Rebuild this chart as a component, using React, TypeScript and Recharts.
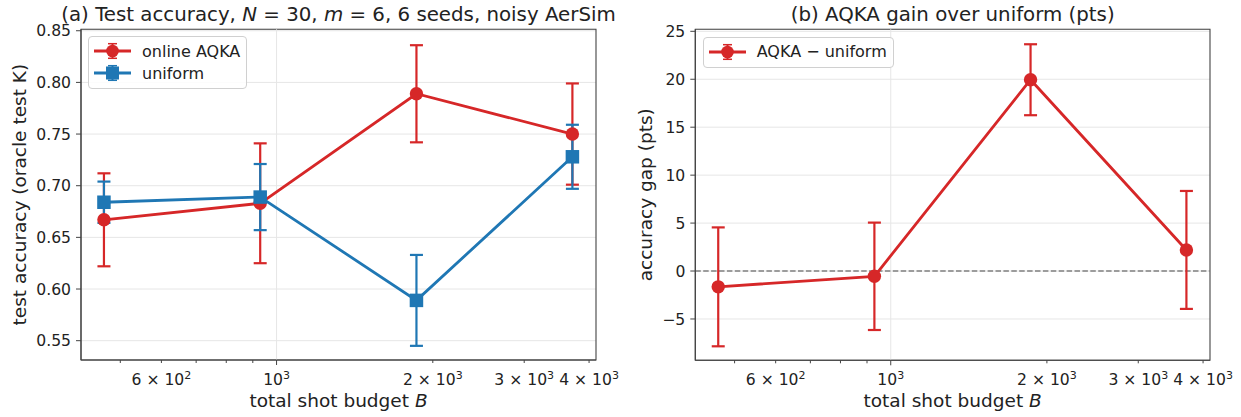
import React from "react";
import {
  LineChart,
  Line,
  XAxis,
  YAxis,
  CartesianGrid,
  ErrorBar,
  ReferenceLine,
  ReferenceArea,
  Legend,
  Customized,
} from "recharts";

// shot budgets (x, log scale) and the two panels' series
const budgets = [465, 930, 1860, 3715];
const aqkaAcc = [0.667, 0.683, 0.789, 0.75];
const aqkaErr = [0.045, 0.058, 0.047, 0.049];
const uniformAcc = [0.684, 0.689, 0.589, 0.728];
const uniformErr = [0.02, 0.032, 0.044, 0.031];
const gapPts = [-1.65, -0.55, 19.95, 2.2];
const gapErr = [6.2, 5.6, 3.7, 6.15];

const xTicks = [500, 600, 700, 800, 900, 1000, 2000, 3000, 4000];
const xTickLabels: Record<number, [string, string]> = {
  600: ["6 × 10", "2"],
  1000: ["10", "3"],
  2000: ["2 × 10", "3"],
  3000: ["3 × 10", "3"],
  4000: ["4 × 10", "3"],
};
const accTicks = [0.55, 0.6, 0.65, 0.7, 0.75, 0.8, 0.85];
const gapTicks = [-5, 0, 5, 10, 15, 20, 25];

const X_DOMAIN: [number, number] = [420, 4125];
const ACC_DOMAIN: [number, number] = [0.5313, 0.8514];
const GAP_DOMAIN: [number, number] = [-9.31, 25.21];

const RED = "#d62728";
const BLUE = "#1f77b4";
const SPINE = "#444";
const TEXT = "#222";
const GRID = "#e6e6e6";
const FONT = "'DejaVu Sans', sans-serif";

const accData = budgets.map((b, i) => ({
  b,
  aqka: aqkaAcc[i],
  aqkaErr: aqkaErr[i],
  uniform: uniformAcc[i],
  uniformErr: uniformErr[i],
}));
const gapData = budgets.map((b, i) => ({ b, gap: gapPts[i], gapErr: gapErr[i] }));

function XTick(props: any) {
  const { x, y, payload } = props;
  const v = payload.value;
  const lab = xTickLabels[v];
  const major = v === 1000;
  return (
    <g>
      <line x1={x} x2={x} y1={y} y2={y + (major ? 5 : 3)} stroke={SPINE} strokeWidth={1} />
      {lab && (
        <text x={x} y={y + 25} textAnchor="middle" fontSize={15.6} fill={TEXT} fontFamily={FONT}>
          {lab[0]}
          <tspan dy={-6.5} fontSize={11}>
            {lab[1]}
          </tspan>
        </text>
      )}
    </g>
  );
}

function LegendIcon({ color, shape }: { color: string; shape: "circle" | "square" }) {
  return (
    <svg width={37} height={20} style={{ marginRight: 11, flex: "none" }}>
      <line x1={0} x2={37} y1={10} y2={10} stroke={color} strokeWidth={2.8} />
      <line x1={18.5} x2={18.5} y1={2.7} y2={17.3} stroke={color} strokeWidth={2} />
      <line x1={14} x2={23} y1={2.7} y2={2.7} stroke={color} strokeWidth={1.5} />
      <line x1={14} x2={23} y1={17.3} y2={17.3} stroke={color} strokeWidth={1.5} />
      {shape === "circle" ? (
        <circle cx={18.5} cy={10} r={6.3} fill={color} />
      ) : (
        <rect x={12} y={3.5} width={13} height={13} fill={color} />
      )}
    </svg>
  );
}

function LegendBox({ items, width }: { items: { label: string; color: string; shape: "circle" | "square" }[]; width: number }) {
  return (
    <div
      style={{
        width,
        boxSizing: "border-box",
        border: "1px solid #d0d0d0",
        borderRadius: 4,
        background: "rgba(255,255,255,0.85)",
        padding: "3px 4px 4px 5px",
        fontFamily: FONT,
        fontSize: 16,
        color: TEXT,
      }}
    >
      {items.map((it) => (
        <div key={it.label} style={{ display: "flex", alignItems: "center", height: 22, whiteSpace: "nowrap" }}>
          <LegendIcon color={it.color} shape={it.shape} />
          <span>{it.label}</span>
        </div>
      ))}
    </div>
  );
}

function Annotations({ title, ylabel, plotLeft, plotRight, plotTop, plotBottom, ylabelGap }: any) {
  const cx = (plotLeft + plotRight) / 2;
  const cy = (plotTop + plotBottom) / 2;
  return (
    <g fontFamily={FONT} fill={TEXT}>
      <text x={cx} y={21} textAnchor="middle" fontSize={19.8}>
        {title}
      </text>
      <text x={cx} y={407} textAnchor="middle" fontSize={18.5}>
        total shot budget <tspan fontStyle="italic">B</tspan>
      </text>
      <text
        transform={`translate(${plotLeft - ylabelGap}, ${cy}) rotate(-90)`}
        textAnchor="middle"
        fontSize={18.5}
      >
        {ylabel}
      </text>
    </g>
  );
}

const blueSquare = (p: any) => (
  <rect key={`sq-${p.index}`} x={p.cx - 6.75} y={p.cy - 6.75} width={13.5} height={13.5} fill={BLUE} />
);

function AccuracyPanel() {
  // plot area: x 81..596, y 29.3..360
  const m = { top: 29.3, right: 24, bottom: 0, left: 0 };
  return (
    <LineChart width={620} height={417} data={accData} margin={m}>
      <CartesianGrid vertical={false} stroke={GRID} />
      <ReferenceLine x={1000} stroke={GRID} />
      <XAxis
        dataKey="b"
        type="number"
        scale="log"
        domain={X_DOMAIN}
        allowDataOverflow
        ticks={xTicks}
        interval={0}
        tick={<XTick />}
        tickLine={false}
        tickSize={0}
        tickMargin={0}
        height={57}
        axisLine={{ stroke: SPINE, strokeWidth: 1.1 }}
      />
      <YAxis
        type="number"
        domain={ACC_DOMAIN}
        allowDataOverflow
        ticks={accTicks}
        interval={0}
        width={81}
        tickSize={5}
        tickMargin={5}
        tickFormatter={(v: number) => v.toFixed(2)}
        tick={{ fontSize: 15.6, fill: TEXT, fontFamily: FONT }}
        tickLine={{ stroke: SPINE }}
        axisLine={{ stroke: SPINE, strokeWidth: 1.1 }}
      />
      <ReferenceArea
        x1={X_DOMAIN[0]}
        x2={X_DOMAIN[1]}
        y1={ACC_DOMAIN[0]}
        y2={ACC_DOMAIN[1]}
        fill="none"
        stroke={SPINE}
        strokeWidth={1.1}
        ifOverflow="visible"
      />
      <Line dataKey="aqka" stroke="none" dot={false} activeDot={false} legendType="none" isAnimationActive={false}>
        <ErrorBar dataKey="aqkaErr" direction="y" width={6.5} stroke={RED} strokeWidth={2.2} isAnimationActive={false} />
      </Line>
      <Line dataKey="uniform" stroke="none" dot={false} activeDot={false} legendType="none" isAnimationActive={false}>
        <ErrorBar dataKey="uniformErr" direction="y" width={6.5} stroke={BLUE} strokeWidth={2.2} isAnimationActive={false} />
      </Line>
      <Line
        dataKey="aqka"
        type="linear"
        stroke={RED}
        strokeWidth={2.8}
        dot={{ r: 6.7, fill: RED, stroke: "none" }}
        activeDot={false}
        isAnimationActive={false}
      />
      <Line
        dataKey="uniform"
        type="linear"
        stroke={BLUE}
        strokeWidth={2.8}
        dot={blueSquare}
        activeDot={false}
        isAnimationActive={false}
      />
      <Legend
        layout="vertical"
        align="center"
        verticalAlign="middle"
        wrapperStyle={{ left: 88, top: 36, width: "auto", height: "auto" }}
        content={() => (
          <LegendBox
            width={159}
            items={[
              { label: "online AQKA", color: RED, shape: "circle" },
              { label: "uniform", color: BLUE, shape: "square" },
            ]}
          />
        )}
      />
      <Customized
        component={
          <Annotations
            title={
              <>
                (a) Test accuracy, <tspan fontStyle="italic">N</tspan> = 30, <tspan fontStyle="italic">m</tspan> = 6, 6
                seeds, noisy AerSim
              </>
            }
            ylabel="test accuracy (oracle test K)"
            plotLeft={81}
            plotRight={596}
            plotTop={29.3}
            plotBottom={360}
            ylabelGap={55}
          />
        }
      />
    </LineChart>
  );
}

function GapPanel() {
  // plot area: x 75.3..590 (local), y 29.3..360.3
  const m = { top: 29.3, right: 31, bottom: 0, left: 0 };
  return (
    <LineChart width={621} height={417} data={gapData} margin={m}>
      <CartesianGrid vertical={false} stroke={GRID} />
      <ReferenceLine x={1000} stroke={GRID} />
      <XAxis
        dataKey="b"
        type="number"
        scale="log"
        domain={X_DOMAIN}
        allowDataOverflow
        ticks={xTicks}
        interval={0}
        tick={<XTick />}
        tickLine={false}
        tickSize={0}
        tickMargin={0}
        height={56.7}
        axisLine={{ stroke: SPINE, strokeWidth: 1.1 }}
      />
      <YAxis
        type="number"
        domain={GAP_DOMAIN}
        allowDataOverflow
        ticks={gapTicks}
        interval={0}
        width={75.3}
        tickSize={5}
        tickMargin={5}
        tickFormatter={(v: number) => (v < 0 ? "\u2212" + Math.abs(v) : String(v))}
        tick={{ fontSize: 15.6, fill: TEXT, fontFamily: FONT }}
        tickLine={{ stroke: SPINE }}
        axisLine={{ stroke: SPINE, strokeWidth: 1.1 }}
      />
      <ReferenceLine y={0} stroke="#808080" strokeWidth={1.6} strokeDasharray="5.5 2.4" />
      <ReferenceArea
        x1={X_DOMAIN[0]}
        x2={X_DOMAIN[1]}
        y1={GAP_DOMAIN[0]}
        y2={GAP_DOMAIN[1]}
        fill="none"
        stroke={SPINE}
        strokeWidth={1.1}
        ifOverflow="visible"
      />
      <Line
        dataKey="gap"
        type="linear"
        stroke={RED}
        strokeWidth={2.8}
        dot={{ r: 6.7, fill: RED, stroke: "none" }}
        activeDot={false}
        isAnimationActive={false}
      >
        <ErrorBar dataKey="gapErr" direction="y" width={6.5} stroke={RED} strokeWidth={2.2} isAnimationActive={false} />
      </Line>
      <Legend
        layout="vertical"
        align="center"
        verticalAlign="middle"
        wrapperStyle={{ left: 82.7, top: 36.7, width: "auto", height: "auto" }}
        content={() => (
          <LegendBox width={191} items={[{ label: "AQKA \u2212 uniform", color: RED, shape: "circle" }]} />
        )}
      />
      <Customized
        component={
          <Annotations
            title="(b) AQKA gain over uniform (pts)"
            ylabel="accuracy gap (pts)"
            plotLeft={75.3}
            plotRight={590}
            plotTop={29.3}
            plotBottom={360.3}
            ylabelGap={43.3}
          />
        }
      />
    </LineChart>
  );
}

export default function App() {
  return (
    <div style={{ position: "absolute", left: 0, top: 0, width: 1241, height: 417, background: "#fff" }}>
      <div style={{ position: "absolute", left: 0, top: 0 }}>
        <AccuracyPanel />
      </div>
      <div style={{ position: "absolute", left: 620, top: 0 }}>
        <GapPanel />
      </div>
    </div>
  );
}
